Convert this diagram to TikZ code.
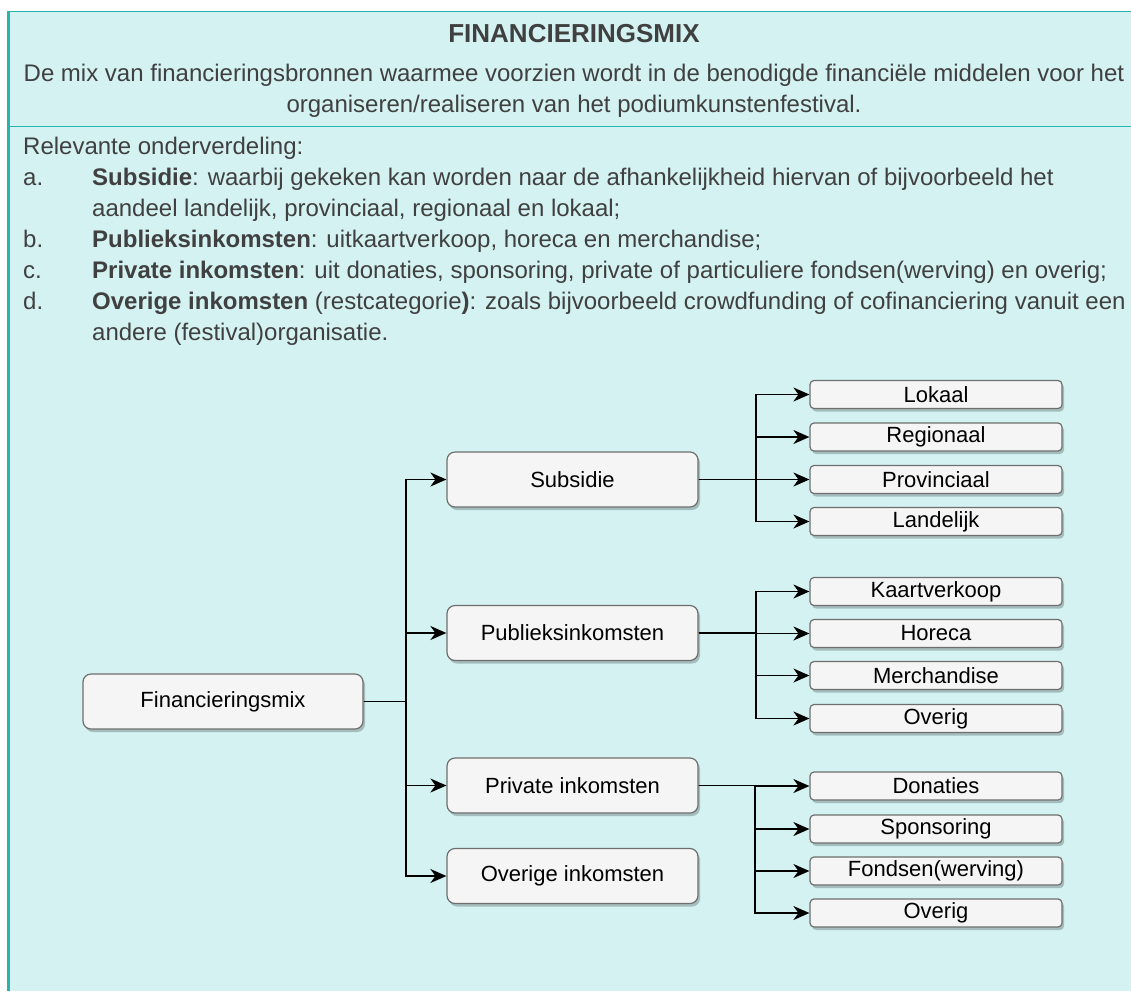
\documentclass[tikz,border=0pt]{standalone}
\usepackage{fontspec}
\setmainfont{Liberation Sans}
\usetikzlibrary{arrows.meta,shadows}
\definecolor{bgc}{RGB}{211,242,241}
\definecolor{frameteal}{RGB}{40,180,172}
\definecolor{txt}{RGB}{64,64,64}
\definecolor{boxfill}{RGB}{245,245,245}
\definecolor{boxline}{RGB}{110,110,110}
\begin{document}
\begin{tikzpicture}[x=1pt,y=-1pt,
  para/.style={inner sep=0pt, anchor=base west, text=txt, font=\fontsize{24}{31}\selectfont},
  cpara/.style={inner sep=0pt, anchor=base, text=txt, font=\fontsize{24}{31}\selectfont},
  shad/.style={drop shadow={shadow xshift=2pt,shadow yshift=-3pt,opacity=.22,fill=black}},
  mainbox/.style={draw=boxline, fill=boxfill, line width=1.2pt, rounded corners=8pt,
    minimum width=251pt, minimum height=55pt, inner sep=0pt, text=black,
    font=\fontsize{22}{26}\selectfont, shad},
  subbox/.style={draw=boxline, fill=boxfill, line width=1.2pt, rounded corners=4pt,
    minimum width=252pt, minimum height=28pt, inner sep=0pt, text=black,
    font=\fontsize{22}{26}\selectfont, shad},
  conn/.style={draw=black, line width=1.8pt, -{Stealth[length=16pt,width=14pt,inset=5pt]}}
]
\useasboundingbox (0,0) rectangle (1131,991);
% frame and background
\fill[bgc] (8,11) rectangle (1131,991);
\draw[frameteal, line width=1.2pt] (8,11.6) -- (1131,11.6);
\draw[frameteal, line width=1pt] (8,126.5) -- (1131,126.5);
\draw[frameteal, line width=2.7pt] (8.8,11) -- (8.8,991);
% header texts
\node[cpara, font=\fontsize{26}{31}\selectfont\bfseries] (title) at (574,42) {FINANCIERINGSMIX};
\node[cpara] (d1) at (574,81) {De mix van financieringsbronnen waarmee voorzien wordt in de benodigde financiële middelen voor het};
\node[cpara] (d2) at (574,112) {organiseren/realiseren van het podiumkunstenfestival.};
% list
\node[para] (rel) at (23,154) {Relevante onderverdeling:};
\node[para] (la) at (23,185) {a.};
\node[para] (ta) at (92,185) {\textbf{Subsidie}: waarbij gekeken kan worden naar de afhankelijkheid hiervan of bijvoorbeeld het};
\node[para] (ta2) at (92,216) {aandeel landelijk, provinciaal, regionaal en lokaal;};
\node[para] (lb) at (23,247) {b.};
\node[para] (tb) at (92,247) {\textbf{Publieksinkomsten}: uitkaartverkoop, horeca en merchandise;};
\node[para] (lc) at (23,278) {c.};
\node[para] (tc) at (92,278) {\textbf{Private inkomsten}: uit donaties, sponsoring, private of particuliere fondsen(werving) en overig;};
\node[para] (ld) at (23,309) {d.};
\node[para] (td) at (92,309) {\textbf{Overige inkomsten} (restcategorie\textbf{)}: zoals bijvoorbeeld crowdfunding of cofinanciering vanuit een};
\node[para] (td2) at (92,340) {andere (festival)organisatie.};
% diagram boxes
\node[mainbox, minimum width=280pt] (fm) at (223,701.5) {Financieringsmix};
\node[mainbox] (sub) at (572.5,479.5) {Subsidie};
\node[mainbox] (pub) at (572.5,633) {Publieksinkomsten};
\node[mainbox] (pri) at (572.5,785.5) {Private inkomsten};
\node[mainbox] (ove) at (572.5,876) {Overige inkomsten};
\node[subbox] (lok) at (936,394.5) {Lokaal};
\node[subbox] (reg) at (936,437) {Regionaal};
\node[subbox] (pro) at (936,479.5) {Provinciaal};
\node[subbox] (lan) at (936,521.5) {Landelijk};
\node[subbox] (kaa) at (936,591.5) {Kaartverkoop};
\node[subbox] (hor) at (936,633.5) {Horeca};
\node[subbox] (mer) at (936,675.5) {Merchandise};
\node[subbox] (ov1) at (936,718.5) {Overig};
\node[subbox] (don) at (936,786) {Donaties};
\node[subbox] (spo) at (936,829) {Sponsoring};
\node[subbox] (fon) at (936,871) {Fondsen(werving)};
\node[subbox] (ov2) at (936,913) {Overig};
% connectors
\foreach \t in {sub,pub,pri,ove}
  \draw[conn] (fm.east) -- ++(42,0) |- (\t.west);
\foreach \t in {lok,reg,pro,lan}
  \draw[conn] (sub.east) -- ++(57,0) |- (\t.west);
\foreach \t in {kaa,hor,mer,ov1}
  \draw[conn] (pub.east) -- ++(57,0) |- (\t.west);
\foreach \t in {don,spo,fon,ov2}
  \draw[conn] (pri.east) -- ++(56,0) |- (\t.west);
\end{tikzpicture}
\end{document}
